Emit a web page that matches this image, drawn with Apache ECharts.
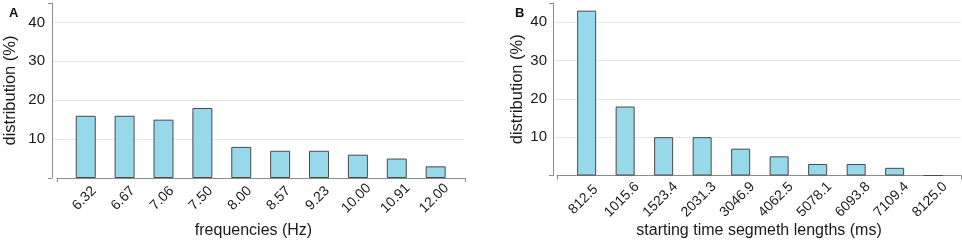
<!DOCTYPE html>
<html>
<head>
<meta charset="utf-8">
<script src="https://cdn.jsdelivr.net/npm/echarts@6/dist/echarts.min.js"></script>
<style>
  html, body { margin: 0; padding: 0; background: #fff; }
  #chart { width: 962px; height: 246px; }
</style>
</head>
<body>
<div id="chart"></div>
<script>
// panel A
const freqLabels = ['6.32', '6.67', '7.06', '7.50', '8.00', '8.57', '9.23', '10.00', '10.91', '12.00'];
const freqValues = [16, 16, 15, 18, 8, 7, 7, 6, 5, 3];
// panel B
const segLabels = ['812.5', '1015.6', '1523.4', '2031.3', '3046.9', '4062.5', '5078.1', '6093.8', '7109.4', '8125.0'];
const segValues = [43, 18, 10, 10, 7, 5, 3, 3, 2, 0];

const yMax = 45;
const yLabelValues = [10, 20, 30, 40];

const font = '"Liberation Sans", Arial, sans-serif';
const textColor = '#1a1a1a';
const axisColor = '#8c8c8c';

const chart = echarts.init(document.getElementById('chart'));

const grid = [];
const xAxis = [];
const yAxis = [];
const series = [];
const title = [];

// one panel = y frame grid, x frame grid, bar grid
function addPanel(p) {
  const g0 = grid.length;
  grid.push(
    { left: p.yLeft, top: 3, width: p.right - p.yLeft, height: p.height },
    { left: p.xLeft, top: 3, width: p.right - p.xLeft, height: p.height },
    { left: p.barLeft, top: 3, width: p.barRight - p.barLeft, height: p.height }
  );

  const x0 = xAxis.length;
  xAxis.push(
    { gridIndex: g0, type: 'value', show: false, min: 0, max: 1 },
    {
      gridIndex: g0 + 1, type: 'value', min: 0, max: 1, interval: 1,
      axisLine: { lineStyle: { color: axisColor, width: 1 } },
      axisTick: { show: true, length: 4, lineStyle: { color: axisColor } },
      axisLabel: { show: false },
      splitLine: { show: false },
      name: p.xName, nameLocation: 'middle', nameGap: p.xNameGap,
      nameTextStyle: { fontFamily: font, fontSize: 16, color: textColor, padding: p.xNamePad }
    },
    {
      gridIndex: g0 + 2, type: 'category', data: p.labels,
      axisLine: { show: false }, axisTick: { show: false },
      axisLabel: {
        interval: 0, rotate: 45, align: 'center', verticalAlign: 'middle',
        margin: p.labelMargin, padding: p.labelPad,
        fontFamily: font, fontSize: 14, color: textColor
      }
    }
  );

  const y0 = yAxis.length;
  yAxis.push(
    {
      gridIndex: g0, type: 'value', position: 'left', min: 0, max: yMax, interval: 10,
      axisLine: { show: false }, axisTick: { show: false },
      axisLabel: {
        customValues: yLabelValues,
        margin: p.yLabelMargin, fontFamily: font, fontSize: 15, color: textColor
      },
      splitLine: { show: true, showMinLine: false, showMaxLine: false, lineStyle: { color: '#e8e8e8' } },
      name: 'distribution (%)', nameLocation: 'middle', nameGap: p.yNameGap,
      nameTextStyle: { fontFamily: font, fontSize: 16.5, color: textColor }
    },
    {
      gridIndex: g0, type: 'value', position: 'left', min: 0, max: yMax, interval: yMax,
      axisLine: { show: true, lineStyle: { color: axisColor, width: 1 } },
      axisTick: { show: true, length: 4, lineStyle: { color: axisColor } },
      axisLabel: { show: false },
      splitLine: { show: false }
    },
    { gridIndex: g0 + 1, type: 'value', show: false, min: 0, max: yMax },
    { gridIndex: g0 + 2, type: 'value', show: false, min: 0, max: yMax }
  );

  series.push({
    type: 'bar',
    xAxisIndex: x0 + 2,
    yAxisIndex: y0 + 3,
    data: p.values,
    barWidth: p.barWidth,
    itemStyle: { color: '#97d9ea', borderColor: '#4a4a4a', borderWidth: 1 },
    silent: true
  });

  title.push({
    text: p.tag, left: p.tagLeft, top: 2,
    textStyle: { fontFamily: font, fontSize: 13, fontWeight: 'bold', color: '#111' }
  });
}

addPanel({
  tag: 'A', tagLeft: 4,
  yLeft: 52, xLeft: 57, right: 465, barLeft: 66.3, barRight: 455.1, height: 175,
  labels: freqLabels, values: freqValues, barWidth: 20,
  labelMargin: 19, labelPad: [0, 4, 4, 0],
  yLabelMargin: 7, yNameGap: 33,
  xName: 'frequencies (Hz)', xNameGap: 45, xNamePad: [0, 15, 0, 0]
});

addPanel({
  tag: 'B', tagLeft: 510,
  yLeft: 553, xLeft: 557, right: 961, barLeft: 567.4, barRight: 952.4, height: 172.5,
  labels: segLabels, values: segValues, barWidth: 19,
  labelMargin: 21, labelPad: [0, 9, 9, 0],
  yLabelMargin: 6, yNameGap: 27,
  xName: 'starting time segmeth lengths (ms)', xNameGap: 47, xNamePad: 0
});

chart.setOption({
  animation: false,
  backgroundColor: '#fff',
  title,
  grid,
  xAxis,
  yAxis,
  series
});

window.addEventListener('resize', () => chart.resize());
</script>
</body>
</html>
